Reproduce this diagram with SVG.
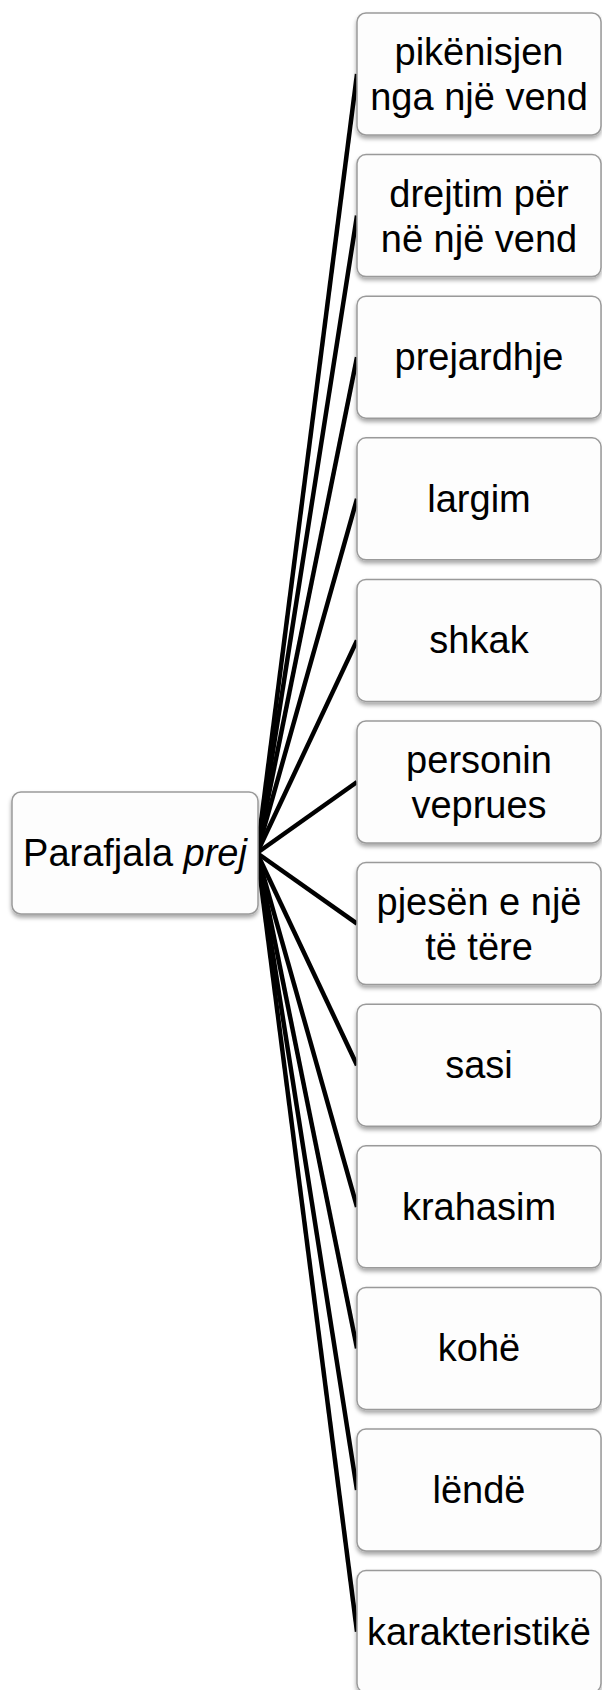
<svg xmlns="http://www.w3.org/2000/svg" width="602" height="1690" viewBox="0 0 602 1690">
  <style>
    .box { fill: #fdfdfd; stroke: #9a9a9a; stroke-width: 1.5; filter: url(#shadow); }
    .lbl { font-family: "Liberation Sans", Arial, sans-serif; font-size: 38px; fill: #000; text-anchor: middle; }
    .edge { stroke: #000; stroke-width: 4.5; fill: none; }
  </style>
  <defs>
    <filter id="shadow" x="-10%" y="-10%" width="120%" height="130%">
      <feDropShadow dx="0" dy="3" stdDeviation="2" flood-color="#000" flood-opacity="0.35"/>
    </filter>
  </defs>

  <!-- connectors from the root to each branch -->
  <g id="connectors">
    <line class="edge" x1="257" y1="853" x2="357" y2="74"/>
    <line class="edge" x1="257" y1="853" x2="357" y2="215.6"/>
    <line class="edge" x1="257" y1="853" x2="357" y2="357.2"/>
    <line class="edge" x1="257" y1="853" x2="357" y2="498.8"/>
    <line class="edge" x1="257" y1="853" x2="357" y2="640.4"/>
    <line class="edge" x1="257" y1="853" x2="357" y2="782"/>
    <line class="edge" x1="257" y1="853" x2="357" y2="923.6"/>
    <line class="edge" x1="257" y1="853" x2="357" y2="1065.2"/>
    <line class="edge" x1="257" y1="853" x2="357" y2="1206.8"/>
    <line class="edge" x1="257" y1="853" x2="357" y2="1348.4"/>
    <line class="edge" x1="257" y1="853" x2="357" y2="1490"/>
    <line class="edge" x1="257" y1="853" x2="357" y2="1631.6"/>
  </g>

  <g id="root">
    <rect class="box" x="12" y="792" width="246" height="122" rx="9"/>
    <text class="lbl" x="135" y="866">Parafjala <tspan font-style="italic">prej</tspan></text>
  </g>

  <g id="n1">
    <rect class="box" x="357" y="13" width="244" height="122" rx="9"/>
    <text class="lbl" x="479" y="65">pikënisjen</text>
    <text class="lbl" x="479" y="110">nga një vend</text>
  </g>
  <g id="n2">
    <rect class="box" x="357" y="154.6" width="244" height="122" rx="9"/>
    <text class="lbl" x="479" y="206.6">drejtim për</text>
    <text class="lbl" x="479" y="251.6">në një vend</text>
  </g>
  <g id="n3">
    <rect class="box" x="357" y="296.2" width="244" height="122" rx="9"/>
    <text class="lbl" x="479" y="370.2">prejardhje</text>
  </g>
  <g id="n4">
    <rect class="box" x="357" y="437.8" width="244" height="122" rx="9"/>
    <text class="lbl" x="479" y="511.8">largim</text>
  </g>
  <g id="n5">
    <rect class="box" x="357" y="579.4" width="244" height="122" rx="9"/>
    <text class="lbl" x="479" y="653.4">shkak</text>
  </g>
  <g id="n6">
    <rect class="box" x="357" y="721" width="244" height="122" rx="9"/>
    <text class="lbl" x="479" y="773">personin</text>
    <text class="lbl" x="479" y="818">veprues</text>
  </g>
  <g id="n7">
    <rect class="box" x="357" y="862.6" width="244" height="122" rx="9"/>
    <text class="lbl" x="479" y="914.6">pjesën e një</text>
    <text class="lbl" x="479" y="959.6">të tëre</text>
  </g>
  <g id="n8">
    <rect class="box" x="357" y="1004.2" width="244" height="122" rx="9"/>
    <text class="lbl" x="479" y="1078.2">sasi</text>
  </g>
  <g id="n9">
    <rect class="box" x="357" y="1145.8" width="244" height="122" rx="9"/>
    <text class="lbl" x="479" y="1219.8">krahasim</text>
  </g>
  <g id="n10">
    <rect class="box" x="357" y="1287.4" width="244" height="122" rx="9"/>
    <text class="lbl" x="479" y="1361.4">kohë</text>
  </g>
  <g id="n11">
    <rect class="box" x="357" y="1429" width="244" height="122" rx="9"/>
    <text class="lbl" x="479" y="1503">lëndë</text>
  </g>
  <g id="n12">
    <rect class="box" x="357" y="1570.6" width="244" height="122" rx="9"/>
    <text class="lbl" x="479" y="1644.6">karakteristikë</text>
  </g>
</svg>
